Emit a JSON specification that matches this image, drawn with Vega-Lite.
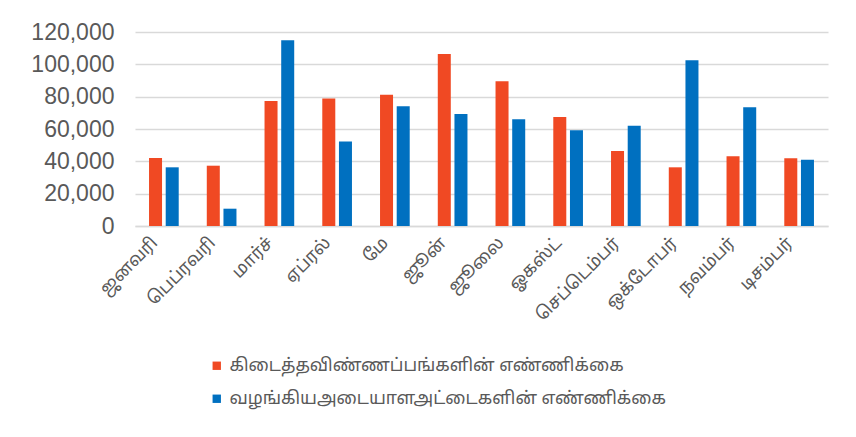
{
  "$schema": "https://vega.github.io/schema/vega-lite/v6.json",
  "autosize": "none",
  "width": 693,
  "height": 194,
  "padding": {"left": 135, "top": 32, "right": 28, "bottom": 211},
  "background": "white",
  "config": {"view": {"stroke": null}},
  "data": {"values": [
    {"month": "ஜனவரி", "series": "கிடைத்தவிண்ணப்பங்களின்  எண்ணிக்கை", "value": 42000},
    {"month": "ஜனவரி", "series": "வழங்கியஅடையாளஅட்டைகளின்  எண்ணிக்கை", "value": 36300},
    {"month": "பெப்ரவரி", "series": "கிடைத்தவிண்ணப்பங்களின்  எண்ணிக்கை", "value": 37300},
    {"month": "பெப்ரவரி", "series": "வழங்கியஅடையாளஅட்டைகளின்  எண்ணிக்கை", "value": 10700},
    {"month": "மார்ச்", "series": "கிடைத்தவிண்ணப்பங்களின்  எண்ணிக்கை", "value": 77300},
    {"month": "மார்ச்", "series": "வழங்கியஅடையாளஅட்டைகளின்  எண்ணிக்கை", "value": 114900},
    {"month": "ஏப்ரல்", "series": "கிடைத்தவிண்ணப்பங்களின்  எண்ணிக்கை", "value": 78800},
    {"month": "ஏப்ரல்", "series": "வழங்கியஅடையாளஅட்டைகளின்  எண்ணிக்கை", "value": 52200},
    {"month": "மே", "series": "கிடைத்தவிண்ணப்பங்களின்  எண்ணிக்கை", "value": 81200},
    {"month": "மே", "series": "வழங்கியஅடையாளஅட்டைகளின்  எண்ணிக்கை", "value": 74000},
    {"month": "ஜூன்", "series": "கிடைத்தவிண்ணப்பங்களின்  எண்ணிக்கை", "value": 106400},
    {"month": "ஜூன்", "series": "வழங்கியஅடையாளஅட்டைகளின்  எண்ணிக்கை", "value": 69300},
    {"month": "ஜூலை", "series": "கிடைத்தவிண்ணப்பங்களின்  எண்ணிக்கை", "value": 89500},
    {"month": "ஜூலை", "series": "வழங்கியஅடையாளஅட்டைகளின்  எண்ணிக்கை", "value": 66000},
    {"month": "ஓகஸ்ட்", "series": "கிடைத்தவிண்ணப்பங்களின்  எண்ணிக்கை", "value": 67400},
    {"month": "ஓகஸ்ட்", "series": "வழங்கியஅடையாளஅட்டைகளின்  எண்ணிக்கை", "value": 59200},
    {"month": "செப்டெம்பர்", "series": "கிடைத்தவிண்ணப்பங்களின்  எண்ணிக்கை", "value": 46400},
    {"month": "செப்டெம்பர்", "series": "வழங்கியஅடையாளஅட்டைகளின்  எண்ணிக்கை", "value": 62000},
    {"month": "ஒக்டோபர்", "series": "கிடைத்தவிண்ணப்பங்களின்  எண்ணிக்கை", "value": 36300},
    {"month": "ஒக்டோபர்", "series": "வழங்கியஅடையாளஅட்டைகளின்  எண்ணிக்கை", "value": 102500},
    {"month": "நவம்பர்", "series": "கிடைத்தவிண்ணப்பங்களின்  எண்ணிக்கை", "value": 43100},
    {"month": "நவம்பர்", "series": "வழங்கியஅடையாளஅட்டைகளின்  எண்ணிக்கை", "value": 73400},
    {"month": "டிசம்பர்", "series": "கிடைத்தவிண்ணப்பங்களின்  எண்ணிக்கை", "value": 41900},
    {"month": "டிசம்பர்", "series": "வழங்கியஅடையாளஅட்டைகளின்  எண்ணிக்கை", "value": 41000}
  ]},
  "mark": {"type": "bar"},
  "encoding": {
    "x": {
      "field": "month", "type": "nominal",
      "sort": ["ஜனவரி","பெப்ரவரி","மார்ச்","ஏப்ரல்","மே","ஜூன்","ஜூலை","ஓகஸ்ட்","செப்டெம்பர்","ஒக்டோபர்","நவம்பர்","டிசம்பர்"],
      "scale": {"paddingInner": 0.486, "paddingOuter": 0.243},
      "axis": {
        "title": null, "labelAngle": -45, "labelAlign": "right", "labelBaseline": "middle",
        "labelFont": "Noto Sans Tamil, Lohit Tamil, Latha, sans-serif", "labelFontSize": 17.5, "labelColor": "#595959",
        "ticks": false, "domainColor": "#D9D9D9", "domainWidth": 1.5, "labelPadding": 14, "labelOffset": -9
      }
    },
    "xOffset": {"field": "series", "type": "nominal", "scale": {"paddingInner": 0.22}},
    "y": {
      "field": "value", "type": "quantitative",
      "scale": {"domain": [0, 120000]},
      "axis": {
        "title": null, "values": [0,20000,40000,60000,80000,100000,120000], "format": ",.0f",
        "labelFont": "Liberation Sans", "labelFontSize": 23, "labelColor": "#595959",
        "ticks": false, "domain": false, "gridColor": "#D9D9D9", "gridWidth": 1.5, "labelPadding": 21
      }
    },
    "color": {
      "field": "series", "type": "nominal",
      "scale": {"range": ["#F04923", "#0070C0"]},
      "legend": {
        "title": null, "orient": "none", "legendX": 73, "legendY": 325, "direction": "vertical",
        "symbolType": "square", "symbolSize": 70, "symbolStrokeWidth": 0, "symbolOpacity": 1,
        "labelFont": "Noto Sans Tamil, Lohit Tamil, Latha, sans-serif", "labelFontSize": 17.5, "labelColor": "#595959",
        "rowPadding": 14, "labelLimit": 600, "labelOffset": 4
      }
    }
  }
}
